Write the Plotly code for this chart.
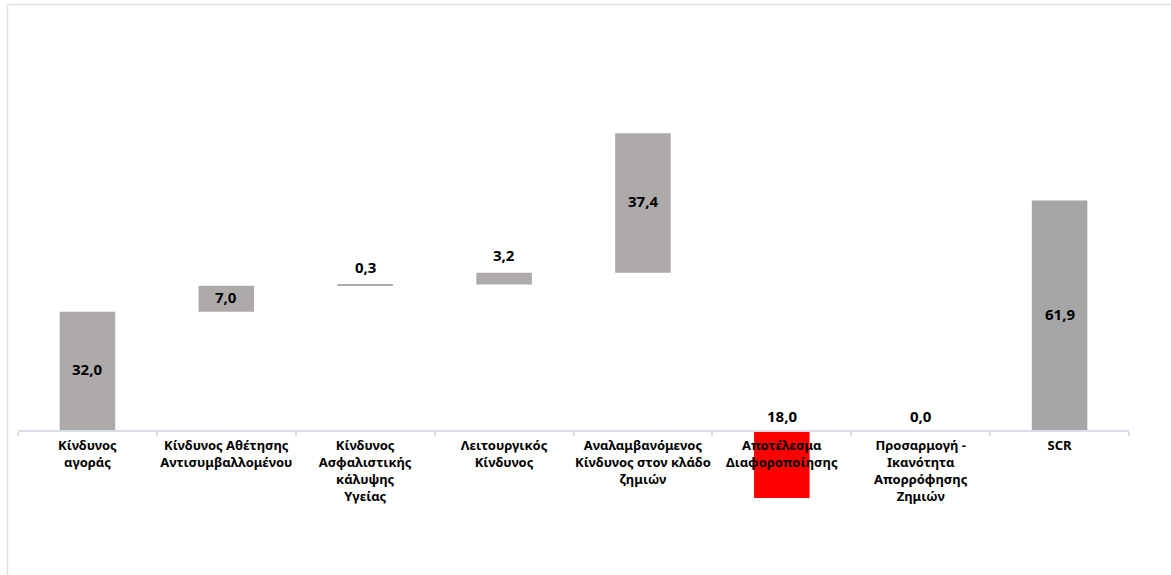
import plotly.graph_objects as go

# Solvency capital requirement build-up (values in € million)
categories = [
    "Κίνδυνος<br>αγοράς",
    "Κίνδυνος Αθέτησης<br>Αντισυμβαλλομένου",
    "Κίνδυνος<br>Ασφαλιστικής<br>κάλυψης<br>Υγείας",
    "Λειτουργικός<br>Κίνδυνος",
    "Αναλαμβανόμενος<br>Κίνδυνος στον κλάδο<br>ζημιών",
    "Αποτέλεσμα<br>Διαφοροποίησης",
    "Προσαρμογή -<br>Ικανότητα<br>Απορρόφησης<br>Ζημιών",
    "SCR",
]
amounts = [32.0, 7.0, 0.3, 3.2, 37.4, -18.0, 0.0, 61.9]
steps = ["start", "add", "add", "add", "add", "adjust", "adjust", "total"]

step_colors = {"start": "#aeaaaa", "add": "#aeaaaa", "adjust": "#ff0000", "total": "#a6a6a6"}

# Floating bar bases: increments stack on the running total,
# adjustments and the total are drawn from the axis.
bases = []
running = 0.0
for v, s in zip(amounts, steps):
    if s == "start":
        bases.append(0.0)
        running = v
    elif s == "add":
        bases.append(running)
        running += v
    elif s == "adjust":
        bases.append(0.0)
        running += v
    else:
        bases.append(0.0)

W, H = 1171, 575
ML, MR, MT, MB = 18, 42, 10, 10
px_per_unit = 3.725
zero_px = 431
y_top = (zero_px - MT) / px_per_unit
y_bot = -((H - MB) - zero_px) / px_per_unit
axis_pos = (0 - y_bot) / (y_top - y_bot)

fig = go.Figure(
    go.Bar(
        x=categories,
        y=amounts,
        base=bases,
        width=0.4,
        marker=dict(color=[step_colors[s] for s in steps], line=dict(width=0)),
        hoverinfo="skip",
    )
)

label_font = dict(family="Noto Sans", size=15, color="#000000")
for cat, v, b, s in zip(categories, amounts, bases, steps):
    txt = f"{abs(v):.1f}".replace(".", ",")
    if s == "adjust":
        y, anchor, shift = 0.0, "bottom", 3
    elif abs(v) < 5:
        y, anchor, shift = b + v, "bottom", 6
    else:
        y, anchor, shift = b + v / 2, "middle", 2
    fig.add_annotation(
        x=cat, y=y, text=f"<b>{txt}</b>", showarrow=False,
        yanchor=anchor, yshift=shift, font=label_font,
    )

# Thin frame along the top and left of the chart area
def px_x(p):
    return (p - ML) / (W - ML - MR)

def px_y(p):
    return 1 - (p - MT) / (H - MT - MB)

frame = "#dde1e8"
fig.add_shape(type="line", xref="paper", yref="paper",
              x0=px_x(7.5), x1=px_x(W + 5), y0=px_y(4.5), y1=px_y(4.5),
              line=dict(color=frame, width=1.5))
fig.add_shape(type="line", xref="paper", yref="paper",
              x0=px_x(7.5), x1=px_x(7.5), y0=px_y(4.5), y1=px_y(H + 5),
              line=dict(color=frame, width=1.5))

fig.update_layout(
    width=W, height=H,
    margin=dict(l=ML, r=MR, t=MT, b=MB),
    paper_bgcolor="white", plot_bgcolor="white",
    showlegend=False,
    bargap=0.6,
    xaxis=dict(
        anchor="free", position=axis_pos,
        showline=True, linecolor="#d9dde5", linewidth=1.5,
        ticks="outside", tickson="boundaries", ticklen=4,
        tickcolor="#d9dde5", tickwidth=1.5,
        showgrid=False,
        tickangle=0,
        tickfont=dict(family="Noto Sans", size=13, color="#000000"),
        tickprefix="<b>", ticksuffix="</b>",
        ticklabelstandoff=3,
    ),
    yaxis=dict(range=[y_bot, y_top], visible=False, showgrid=False, zeroline=False),
)

fig.write_html("out.html")
